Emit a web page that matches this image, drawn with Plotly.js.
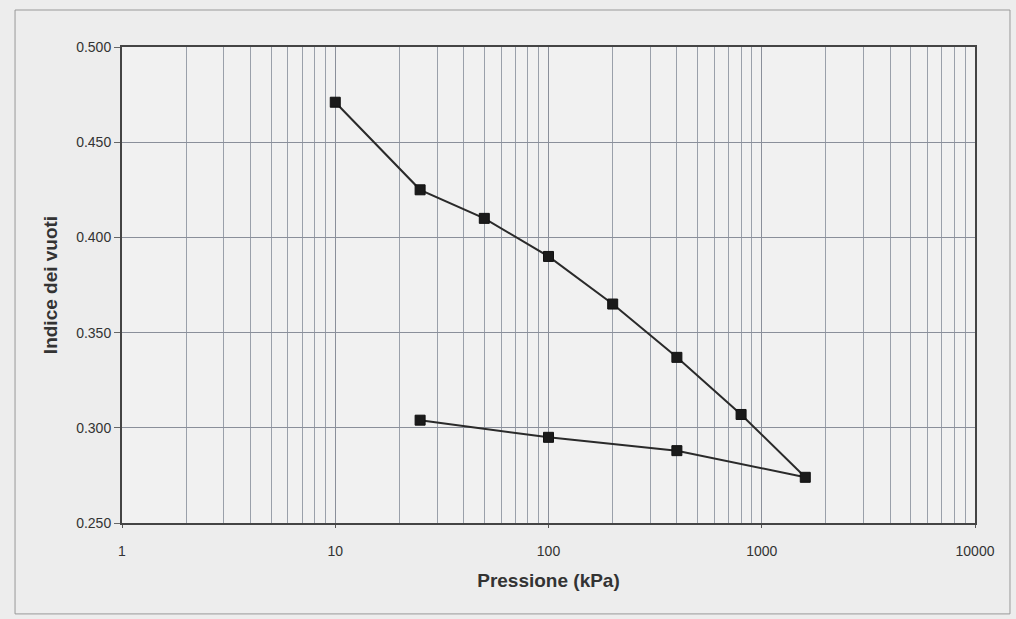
<!DOCTYPE html>
<html>
<head>
<meta charset="utf-8">
<script src="https://cdn.plot.ly/plotly-3.0.1.min.js"></script>
<style>html,body{margin:0;padding:0;background:#ededed;}#chart{width:1016px;height:619px;}</style>
</head>
<body>
<div id="chart"></div>
<script>
// Data (oedometer test: loading then unloading)
const pressione = [10, 25, 50, 100, 200, 400, 800, 1600, 400, 100, 25];
const indiceVuoti = [0.471, 0.425, 0.410, 0.390, 0.365, 0.337, 0.307, 0.274, 0.288, 0.295, 0.304];
const xTickVals = [1, 10, 100, 1000, 10000];
const xTickText = ["1", "10", "100", "1000", "10000"];
const yTickVals = [0.25, 0.30, 0.35, 0.40, 0.45, 0.50];

// minor log grid positions (2..9 in each decade)
const minorVals = [];
for (let d = 1; d <= 1000; d *= 10) {
  for (let k = 2; k <= 9; k++) minorVals.push(k * d);
}

const trace = {
  x: pressione,
  y: indiceVuoti,
  type: 'scatter',
  mode: 'lines+markers',
  line: {color: '#2a2a2a', width: 2},
  marker: {symbol: 'square', size: 10, color: '#1a1a1a', line: {color: '#111', width: 1}},
  showlegend: false,
  hoverinfo: 'x+y'
};

const titleFont = {size: 19, color: '#333', family: 'Liberation Sans, Arial, sans-serif', weight: 'bold'};

const layout = {
  width: 1016, height: 619,
  margin: {l: 122, r: 41, t: 47, b: 96},
  paper_bgcolor: '#ededed',
  plot_bgcolor: '#f1f1f1',
  font: {family: 'Liberation Sans, Arial, sans-serif', color: '#333', size: 14},
  xaxis: {
    type: 'log',
    range: [0, 4],
    tickmode: 'array',
    tickvals: xTickVals,
    ticktext: xTickText,
    ticks: 'outside', ticklen: 3, tickcolor: '#555',
    ticklabelstandoff: 11,
    showgrid: true, gridcolor: '#8a8f9a', gridwidth: 1,
    minor: {tickmode: 'array', tickvals: minorVals, showgrid: true, gridcolor: '#9aa0aa', gridwidth: 1, ticks: ''},
    showline: true, linecolor: '#444', linewidth: 2, mirror: true,
    zeroline: false,
    tickfont: {size: 14, color: '#333'},
    title: {text: 'Pressione (kPa)', font: titleFont, standoff: 16}
  },
  yaxis: {
    range: [0.25, 0.50],
    tickmode: 'array',
    tickvals: yTickVals,
    tickformat: '.3f',
    ticks: 'outside', ticklen: 6, tickcolor: '#666',
    showgrid: true, gridcolor: '#8a8f9a', gridwidth: 1,
    showline: true, linecolor: '#444', linewidth: 2, mirror: true,
    zeroline: false,
    tickfont: {size: 14, color: '#333'},
    title: {text: 'Indice dei vuoti', font: titleFont, standoff: 14}
  },
  shapes: [{
    type: 'rect', xref: 'paper', yref: 'paper',
    x0: -0.1254, x1: 1.041, y0: -0.191, y1: 1.0777,
    line: {color: '#999', width: 1}, fillcolor: 'rgba(0,0,0,0)', layer: 'below'
  }]
};

Plotly.newPlot('chart', [trace], layout, {displayModeBar: false, staticPlot: true});
</script>
</body>
</html>
